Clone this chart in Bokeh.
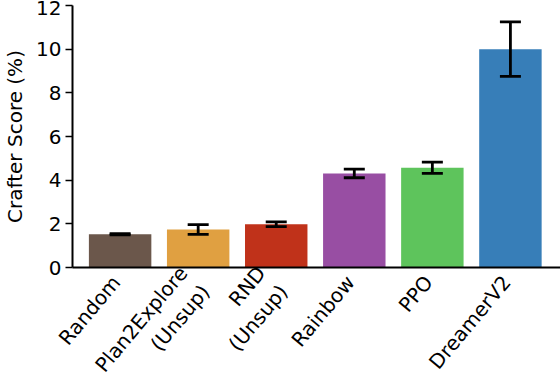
import math
from bokeh.plotting import figure
from bokeh.models import ColumnDataSource, Whisker, TeeHead, FixedTicker, Range1d, LinearAxis
from bokeh.embed import file_html
from bokeh.resources import INLINE

methods = ["Random", "Plan2Explore\n(Unsup)", "RND\n(Unsup)", "Rainbow", "PPO", "DreamerV2"]
scores = [1.52, 1.74, 1.98, 4.31, 4.57, 10.0]
errors = [0.03, 0.22, 0.11, 0.20, 0.26, 1.25]
colors = ["#6b574b", "#e0a041", "#c0321a", "#984ea3", "#5ec45c", "#377eb8"]
y_ticks = [0, 2, 4, 6, 8, 10, 12]

xs = list(range(len(methods)))
source = ColumnDataSource(data=dict(
    x=xs,
    score=scores,
    color=colors,
    upper=[s + e for s, e in zip(scores, errors)],
    lower=[s - e for s, e in zip(scores, errors)],
))

FONT = "DejaVu Sans"
X0, X1 = -0.61, 5.68
LABEL_SHIFT = 0.05

p = figure(
    output_backend="svg", toolbar_location=None,
    frame_width=491, frame_height=262,
    x_range=Range1d(X0, X1), y_range=Range1d(0, 12),
    x_axis_location=None,
    min_border_top=5, min_border_right=0, min_border_left=0, min_border_bottom=0,
)
p.extra_x_ranges = {"lab": Range1d(X0 + LABEL_SHIFT, X1 + LABEL_SHIFT)}
p.outline_line_color = None
p.xgrid.grid_line_color = None
p.ygrid.grid_line_color = None
p.background_fill_color = "white"

p.vbar(x="x", top="score", width=0.8, color="color", line_color=None, source=source)

w = Whisker(base="x", upper="upper", lower="lower", source=source, level="overlay",
            line_color="black", line_width=2.8,
            upper_head=TeeHead(size=21, line_width=2.8, line_color="black"),
            lower_head=TeeHead(size=21, line_width=2.8, line_color="black"))
p.add_layout(w)

xaxis = LinearAxis(x_range_name="lab", ticker=FixedTicker(ticks=xs))
xaxis.major_label_overrides = {i: m for i, m in zip(xs, methods)}
xaxis.major_label_orientation = math.radians(50)
xaxis.major_label_text_font = FONT
xaxis.major_label_text_font_size = "20px"
xaxis.major_label_text_color = "black"
xaxis.major_tick_line_color = None
xaxis.minor_tick_line_color = None
xaxis.axis_line_width = 2
xaxis.axis_line_color = "black"
xaxis.major_label_standoff = 5
p.add_layout(xaxis, "below")

p.yaxis.ticker = FixedTicker(ticks=y_ticks)
p.yaxis.axis_label = "Crafter Score (%)"
p.yaxis.axis_label_text_font = FONT
p.yaxis.axis_label_text_font_size = "20px"
p.yaxis.axis_label_text_font_style = "normal"
p.yaxis.axis_label_text_color = "black"
p.yaxis.axis_label_standoff = 6
p.yaxis.major_label_text_font = FONT
p.yaxis.major_label_text_font_size = "20px"
p.yaxis.major_label_text_color = "black"
p.yaxis.major_tick_out = 7
p.yaxis.major_tick_in = 0
p.yaxis.minor_tick_line_color = None
p.yaxis.major_tick_line_width = 1.5
p.yaxis.axis_line_width = 2
p.yaxis.major_label_standoff = 4

open("out.html", "w").write(file_html(p, INLINE))
